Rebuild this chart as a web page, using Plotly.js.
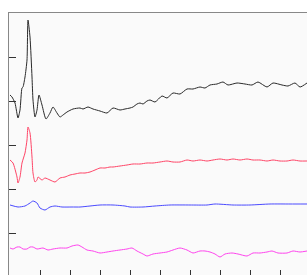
<!DOCTYPE html>
<html>
<head>
<meta charset="utf-8">
<script src="https://cdn.plot.ly/plotly-3.0.1.min.js"></script>
<style>
html,body{margin:0;padding:0;overflow:hidden;background:#fff;}
#chart{width:320px;height:290px;}
</style>
</head>
<body>
<div id="chart"></div>
<script>
// Sample time (arbitrary units) and signal values (arbitrary units)
const blackX = [0,2,5,8,10,12,13,15,17,18,20,22,23,25,27,29,32,36,40,43,47,50,53,57,63,70,73,78,83,90,97,103,110,115,120,123,127,130,133,137,140,145,152,157,163,170,177,183,190,195,200,207,213,218,227,235,242,248,257,263,272,278,285,290,297];
const blackY = [182,180,174,159,167,189,190,200,217,257,240,200,177,160,167,182,172,158,164,170,164,160,162,165,168,169,168,170,168,166,164,169,167,168,169,170,173,174,173,176,177,175,181,179,184,183,188,188,190,189,192,193,195,192,194,193,192,195,190,194,192,191,194,190,194];

const redX = [0,3,7,8,10,12,15,17,18,20,22,23,25,27,28,32,35,40,45,50,55,60,65,70,75,80,85,90,95,100,103,110,117,123,130,137,143,150,157,163,170,177,183,190,197,203,210,217,223,230,237,243,250,257,263,270,277,283,290,297];
const redY = [117,114,100,94,100,114,124,137,150,144,120,104,95,97,100,97,99,97,95,99,100,102,103,104,104,105,107,109,109,110,110,111,112,113,113,114,114,115,116,115,115,117,116,117,116,117,118,117,118,117,118,117,117,116,117,116,116,117,116,116];

const blueX = [0,8,15,20,23,27,30,35,40,45,52,62,70,80,90,103,115,120,133,145,160,180,197,205,223,240,260,280,297];
const blueY = [72,70,71,74,76,74,69,67,70,71,70,70,70,71,72,72,71,70,70,71,72,72,72,73,72,72,73,73,73];

const magX = [0,3,7,10,13,17,20,23,27,33,38,43,50,57,62,68,72,77,83,90,97,103,110,117,122,127,133,137,143,150,157,163,170,177,183,190,195,200,205,210,215,222,228,237,243,250,257,262,268,277,283,290,297];
const magY = [29,28,30,30,28,28,30,30,28,29,27,28,29,29,31,32,30,27,26,24,25,26,27,28,29,26,23,21,23,24,25,27,29,27,24,26,26,25,23,20,23,24,23,21,24,24,25,26,24,24,26,25,26];

const line = (x, y, c) => ({x: x, y: y, type: 'scatter', mode: 'lines', line: {color: c, width: 1, shape: 'spline', smoothing: 0.6}, hoverinfo: 'skip', showlegend: false});

const data = [
  line(blackX, blackY, '#2a2a2a'),
  line(redX, redY, '#ff4466'),
  line(blueX, blueY, '#4a4aff'),
  line(magX, magY, '#ff44ee')
];

const axisCommon = {
  showgrid: false, zeroline: false, showticklabels: false,
  ticks: 'inside', ticklen: 7, tickcolor: '#333', tickwidth: 1,
  showline: true, linecolor: '#888', linewidth: 1, mirror: true
};

const layout = {
  width: 320, height: 290,
  margin: {l: 9, r: 11, t: 13, b: 13},
  paper_bgcolor: '#ffffff',
  plot_bgcolor: '#fafafa',
  xaxis: Object.assign({range: [-1, 299], tick0: 0, dtick: 30}, axisCommon),
  yaxis: Object.assign({range: [0, 264], tick0: 0, dtick: 44}, axisCommon)
};

Plotly.newPlot('chart', data, layout, {staticPlot: true, displayModeBar: false});
</script>
</body>
</html>
